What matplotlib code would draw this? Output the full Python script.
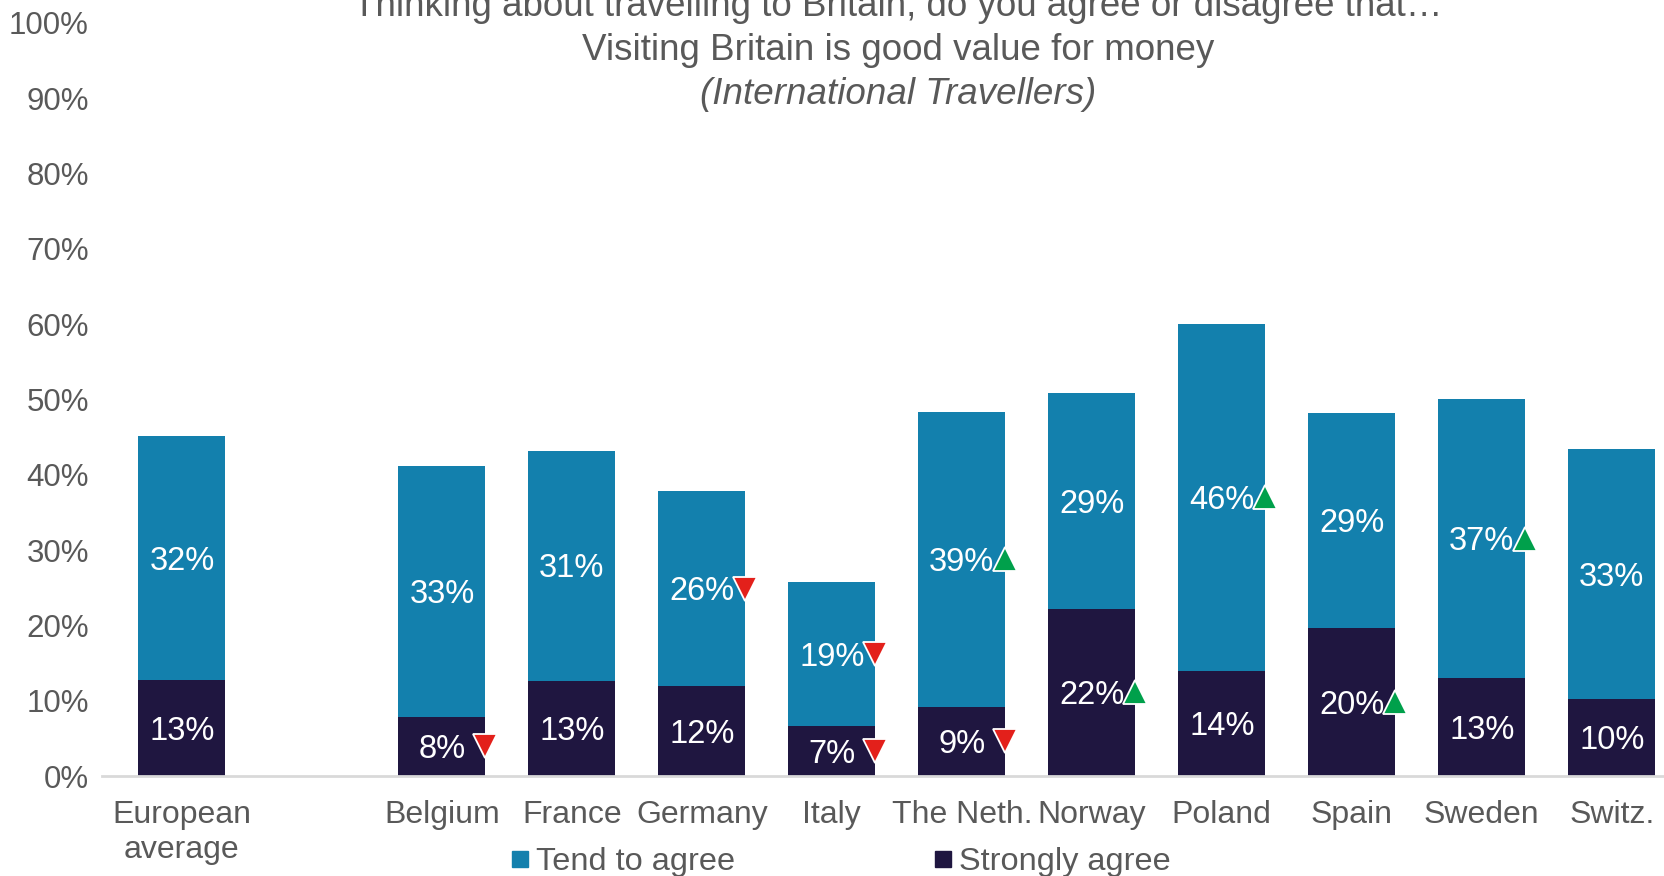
import numpy as np
import matplotlib.pyplot as plt
from matplotlib.lines import Line2D

# -----------------------------
# Datos
# -----------------------------
categorias = ["European\naverage", "Belgium", "France", "Germany", "Italy",
              "The Neth.", "Norway", "Poland", "Spain", "Sweden", "Switz."]
strongly = [12.7, 7.9, 12.6, 11.9, 6.6, 9.2, 22.2, 14.0, 19.6, 13.0, 10.2]
tend = [32.4, 33.3, 30.6, 26.0, 19.2, 39.2, 28.6, 46.0, 28.6, 37.0, 33.2]
# cambio significativo: 1 = sube, -1 = baja, 0 = sin cambio
cambio_strongly = [0, -1, 0, 0, -1, -1, 1, 0, 1, 0, 0]
cambio_tend = [0, 0, 0, -1, -1, 1, 0, 1, 0, 1, 0]

titulo1 = "Thinking about travelling to Britain, do you agree or disagree that\u2026"
titulo2 = "Visiting Britain is good value for money"
titulo3 = "(International Travellers)"

c_tend = "#1380ad"
c_strong = "#1f1640"
c_texto = "#595959"

plt.rcParams['font.family'] = ['Liberation Sans', 'DejaVu Sans']

fig = plt.figure(figsize=(16.65, 8.76), dpi=100)
ax = fig.add_axes([102 / 1665, 1 - 776 / 876, 1 - 102 / 1665, (776 - 23) / 876])

# posiciones: hueco despues del promedio europeo
x = np.array([0] + list(range(2, len(categorias) + 1)))
ancho = 0.67
strongly = np.array(strongly)
tend = np.array(tend)

ax.bar(x, strongly, ancho, color=c_strong, label="Strongly agree")
ax.bar(x, tend, ancho, bottom=strongly, color=c_tend, label="Tend to agree")

fs = 23.5
dy = 0.4  # pequeño ajuste vertical de las etiquetas
for i in range(len(x)):
    ys = strongly[i] / 2 - dy
    yt = strongly[i] + tend[i] / 2 - dy
    ax.text(x[i], ys, f"{strongly[i]:.0f}%", ha="center", va="center",
            color="white", fontsize=fs)
    ax.text(x[i], yt, f"{tend[i]:.0f}%", ha="center", va="center",
            color="white", fontsize=fs)
    for c, y in ((cambio_strongly[i], ys + dy), (cambio_tend[i], yt + dy)):
        if c != 0:
            ax.plot(x[i] + ancho / 2, y, marker="^" if c > 0 else "v",
                    markersize=17, color="#00a04b" if c > 0 else "#e3201b",
                    markeredgecolor="white", markeredgewidth=1.3,
                    linestyle="none", clip_on=False, zorder=5)

ax.set_xlim(-0.615, 11.41)
ax.set_ylim(0, 100)
ax.set_yticks(np.arange(0, 101, 10))
ax.set_yticklabels([f"{v}%" for v in range(0, 101, 10)])
ax.set_xticks(x)
ax.set_xticklabels(categorias, linespacing=1.25)
ax.tick_params(axis="both", length=0, colors=c_texto)
ax.tick_params(axis="y", pad=9.5, labelsize=22.5)
ax.tick_params(axis="x", pad=17, labelsize=23)

for s in ["top", "right", "left"]:
    ax.spines[s].set_visible(False)
ax.spines["bottom"].set_color("#d9d9d9")
ax.spines["bottom"].set_linewidth(2)

# Titulos
xc = 898 / 1665
fig.text(xc, 1 - 6 / 876, titulo1, ha="center", va="center", fontsize=26.5, color=c_texto)
fig.text(xc, 1 - 50 / 876, titulo2, ha="center", va="center", fontsize=26.5, color=c_texto)
fig.text(xc, 1 - 95 / 876, titulo3, ha="center", va="center", fontsize=26.5,
         color=c_texto, style="italic")

# Leyenda
handles = [Line2D([], [], marker="s", color=c_tend, linestyle="none", markersize=11),
           Line2D([], [], marker="s", color=c_strong, linestyle="none", markersize=11)]
fig.legend(handles, ["Tend to agree", "Strongly agree"], ncol=2, frameon=False,
           loc="center left", bbox_to_anchor=(510 / 1665, 1 - 862 / 876),
           fontsize=23.4, labelcolor=c_texto, handlelength=0.6, handletextpad=0.2,
           columnspacing=6.1, borderpad=0, borderaxespad=0)

fig.savefig("out.png", dpi=100)
